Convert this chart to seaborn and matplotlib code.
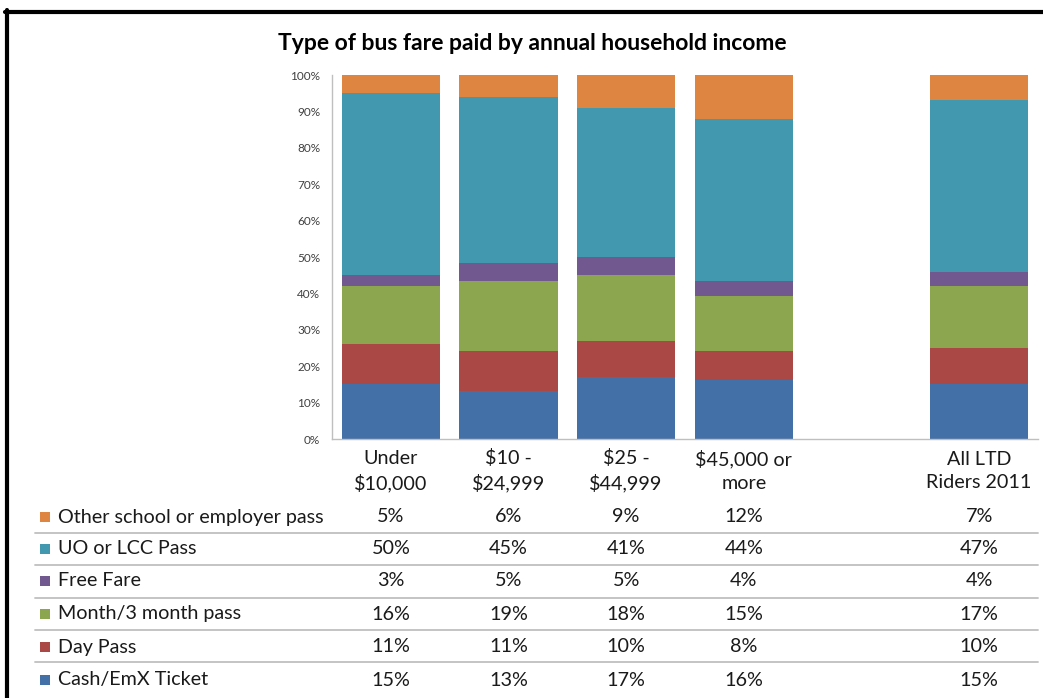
import numpy as np
import pandas as pd
import matplotlib
matplotlib.use("Agg")
import matplotlib.pyplot as plt
import seaborn as sns
from matplotlib.lines import Line2D
from matplotlib.patches import Rectangle
from matplotlib.transforms import blended_transform_factory

# income groups (table header / bar labels)
groups = ["Under\n$10,000", "$10 -\n$24,999", "$25 -\n$44,999",
          "$45,000 or\nmore", "All LTD\nRiders 2011"]

# fare types, bottom of the stack first
fares = ["Cash/EmX Ticket", "Day Pass", "Month/3 month pass",
         "Free Fare", "UO or LCC Pass", "Other school or employer pass"]

cash = [15, 13, 17, 16, 15]
day_pass = [11, 11, 10, 8, 10]
month_pass = [16, 19, 18, 15, 17]
free_fare = [3, 5, 5, 4, 4]
uo_lcc = [50, 45, 41, 44, 47]
other_pass = [5, 6, 9, 12, 7]

colors = ["#4470A8", "#A94845", "#8BA64F", "#71598F", "#4198AF", "#DE8641"]

values = [cash, day_pass, month_pass, free_fare, uo_lcc, other_pass]

sns.set_style("white")
plt.rcParams["font.family"] = ["Lato", "DejaVu Sans"]

W, H = 1043, 698
fig = plt.figure(figsize=(W / 100, H / 100), dpi=100)
ax = fig.add_axes([332 / W, 1 - 439 / H, (1038 - 332) / W, (439 - 75) / H])

# slot layout: one empty slot before the all-riders bar
slots = np.array([0, 1, 2, 3, 5])

totals = np.sum(np.array(values), axis=0)
bottom = np.zeros(len(groups))
for fare, vals, col in zip(fares, values, colors):
    share = np.array(vals) / totals
    sns.barplot(x=slots, y=share, bottom=bottom, native_scale=True, width=0.835,
                color=col, saturation=1, linewidth=0, ax=ax)
    bottom = bottom + share

ax.set_xlim(-0.5, 5.5)
ax.set_ylim(0, 1)
ax.set_xticks([])
ax.set_xlabel("")
ax.set_ylabel("")
ticks = np.arange(0, 1.01, 0.1)
ax.set_yticks(ticks)
ax.set_yticklabels([f"{int(round(t * 100))}%" for t in ticks], fontsize=8.5, color="#404040")
ax.tick_params(axis="y", length=0, pad=8.5)
sns.despine(ax=ax)
for s in ["left", "bottom"]:
    ax.spines[s].set_color("#BFBFBF")
    ax.spines[s].set_linewidth(1.0)

fig.text(532 / W, 1 - 43 / H, "Type of bus fare paid by annual household income",
         ha="center", va="center", fontsize=16.5, fontweight="bold", color="black")

# data table under the bars
fs = 14.2
tr = blended_transform_factory(ax.transData, fig.transFigure)
for x, g in zip(slots, groups):
    ax.text(x, 1 - 471 / H, g, transform=tr, ha="center", va="center",
            fontsize=fs, linespacing=1.45, color="#1a1a1a")

row_y = [517, 549, 581, 614, 647, 680]  # top row first
for i, (fare, vals, col) in enumerate(zip(fares[::-1], values[::-1], colors[::-1])):
    yf = 1 - row_y[i] / H
    fig.add_artist(Rectangle((40 / W, yf - 5 / H), 10 / W, 10 / H,
                             transform=fig.transFigure, facecolor=col, edgecolor="none"))
    fig.text(58 / W, yf, fare, ha="left", va="center", fontsize=fs, color="#1a1a1a")
    for x, v in zip(slots, vals):
        ax.text(x, yf, f"{v}%", transform=tr, ha="center", va="center",
                fontsize=fs, color="#1a1a1a")

for ly in [533, 565, 598, 630, 662]:
    fig.add_artist(Line2D([35 / W, 1038 / W], [1 - ly / H, 1 - ly / H],
                          transform=fig.transFigure, color="#BFBFBF", linewidth=1.3))

# black frame (top and left edges)
fig.add_artist(Line2D([5 / W, 1.0], [1 - 11.5 / H, 1 - 11.5 / H],
                      transform=fig.transFigure, color="black", linewidth=3))
fig.add_artist(Line2D([7 / W, 7 / W], [1 - 10 / H, 0.0],
                      transform=fig.transFigure, color="black", linewidth=3))

fig.savefig("out.png", dpi=100)
